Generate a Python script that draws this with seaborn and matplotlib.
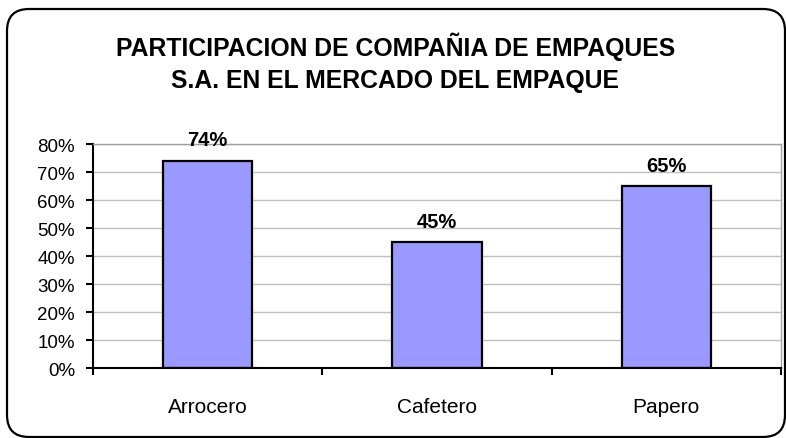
import matplotlib
matplotlib.use("Agg")
import matplotlib.pyplot as plt
import seaborn as sns
import pandas as pd
from matplotlib.patches import FancyBboxPatch
from matplotlib.ticker import PercentFormatter, MultipleLocator

# Datos del grafico
categorias = ["Arrocero", "Cafetero", "Papero"]
participacion = [0.74, 0.45, 0.65]
etiquetas = ["74%", "45%", "65%"]
titulo = "PARTICIPACION DE COMPAÑIA DE EMPAQUES\nS.A. EN EL MERCADO DEL EMPAQUE"

sns.set_style("white")
plt.rcParams["font.family"] = ["Liberation Sans", "DejaVu Sans"]
plt.rcParams["text.color"] = "black"
plt.rcParams["xtick.color"] = "black"
plt.rcParams["ytick.color"] = "black"

df = pd.DataFrame({"categoria": categorias, "valor": participacion})

fig = plt.figure(figsize=(7.86, 4.39), dpi=100)

# marco redondeado del grafico
marco = FancyBboxPatch((0.07, 0.01), 7.78, 4.28,
                       boxstyle="round,pad=0,rounding_size=0.22",
                       transform=fig.dpi_scale_trans, fill=False,
                       edgecolor="black", linewidth=1.6, clip_on=False)
fig.patches.append(marco)

fig.text(0.503, 0.857, titulo, ha="center", va="center", fontsize=17.8,
         fontweight="bold", linespacing=1.45)

ax = fig.add_axes([0.1183, 0.1588, 0.8753, 0.5109])
sns.barplot(data=df, x="categoria", y="valor", color="#9999FF", width=0.39,
            edgecolor="black", linewidth=1.6, saturation=1, ax=ax)

ax.set_xlim(-0.5, 2.5)
ax.set_ylim(0, 0.8)
ax.yaxis.set_major_locator(MultipleLocator(0.1))
ax.yaxis.set_major_formatter(PercentFormatter(1.0, decimals=0))
ax.grid(axis="y", color="#C0C0C0", linewidth=1)
ax.set_axisbelow(True)
ax.set_xlabel("")
ax.set_ylabel("")

# marcas del eje x en los limites de categoria
ax.set_xticks([-0.5, 0.5, 1.5, 2.5], minor=True)
ax.tick_params(axis="x", which="major", length=0, pad=21, labelsize=15)
ax.tick_params(axis="x", which="minor", length=5, width=1.5, direction="out",
               bottom=True)
ax.tick_params(axis="y", length=5, width=1.5, direction="out", left=True,
               pad=8, labelsize=13.5)

for lado in ["left", "bottom"]:
    ax.spines[lado].set_color("black")
    ax.spines[lado].set_linewidth(1.5)
for lado in ["top", "right"]:
    ax.spines[lado].set_visible(True)
    ax.spines[lado].set_color("#A0A0A0")
    ax.spines[lado].set_linewidth(1)

for i, (v, t) in enumerate(zip(participacion, etiquetas)):
    ax.annotate(t, (i, v), xytext=(0, 15), textcoords="offset points",
                ha="center", va="center", fontsize=14.5, fontweight="bold",
                annotation_clip=False)

fig.savefig("out.png", dpi=100)
